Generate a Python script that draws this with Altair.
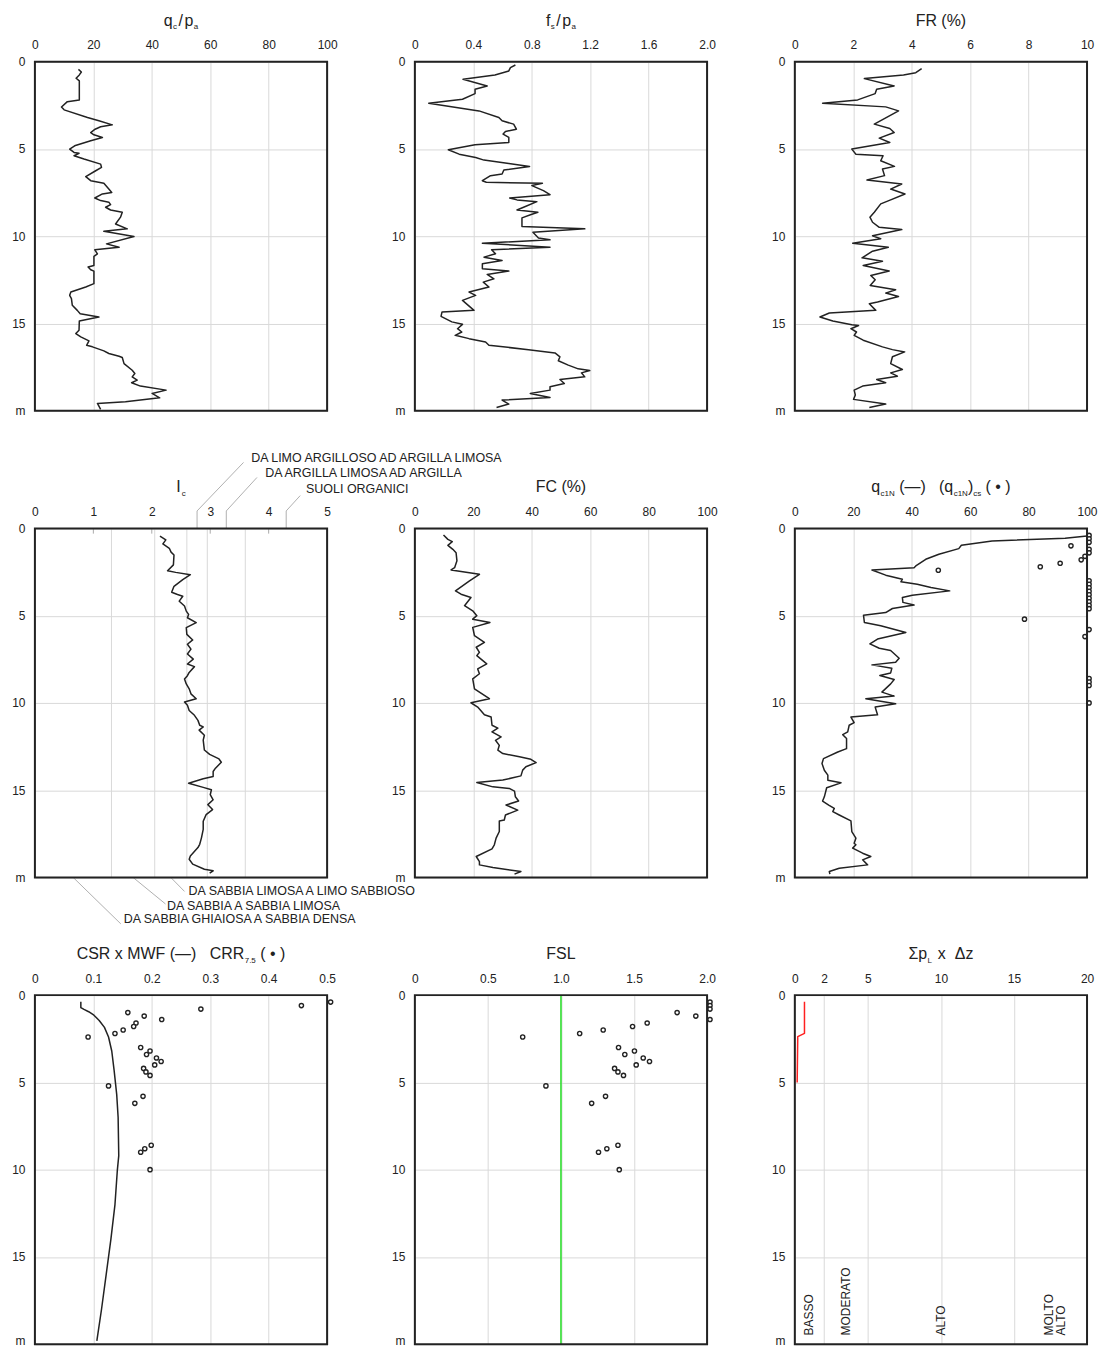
import altair as alt
import pandas as pd

FONT = "Liberation Sans"
INK = "#222222"
GRID = "#d9d9d9"
W, H = 293, 350

# ---------------- data ----------------
QC_D = [0.44, 0.59, 0.76, 0.95, 1.10, 2.19, 2.29, 2.60, 2.76, 3.20, 3.39, 3.62, 3.73, 3.87, 4.06, 4.19, 4.34, 4.53,
        4.82, 5.01, 5.20, 5.25, 5.39, 5.58, 5.87, 6.06, 6.25, 6.59, 6.82, 6.97, 7.30, 7.49, 7.58, 7.81, 7.96, 8.05,
        8.19, 8.34, 8.50, 8.63, 8.91, 9.30, 9.58, 9.72, 10.02, 10.44, 10.63, 10.78, 11.01, 11.16, 11.68, 11.77, 11.92,
        12.00, 12.72, 12.91, 13.20, 13.39, 13.58, 13.96, 14.25, 14.44, 14.63, 14.86, 15.39, 15.58, 15.77, 16.00, 16.25,
        16.34, 16.57, 16.72, 16.88, 16.95, 17.30, 17.68, 17.87, 18.06, 18.25, 18.40, 18.59, 18.82, 19.01, 19.26, 19.49,
        19.58, 19.92]
QC_V = [14.9, 15.9, 15.2, 14.1, 15.2, 15.2, 11.1, 9.1, 10.0, 18.0, 21.9, 26.5, 22.5, 20.6, 19.1, 20.2, 23.1, 19.1,
        13.6, 11.9, 13.4, 15.1, 13.4, 16.8, 22.5, 22.8, 20.8, 17.4, 19.1, 23.6, 25.3, 26.3, 23.1, 20.5, 22.5, 25.3,
        25.9, 24.2, 25.9, 29.9, 29.3, 27.6, 31.6, 23.6, 33.9, 24.5, 28.8, 20.5, 21.4, 20.2, 20.2, 18.2, 19.1,
        20.2, 20.2, 17.4, 12.3, 11.9, 12.5, 12.8, 14.5, 15.5, 21.9, 15.2, 15.1, 14.0, 15.7, 18.5, 17.7,
        19.7, 23.6, 25.3, 28.8, 29.9, 30.5, 33.3, 34.2, 33.3, 35.0, 33.1, 36.1, 44.9, 40.1, 42.7, 31.0,
        21.4, 22.5]

FS_D = [0.19, 0.34, 0.53, 0.76, 1.01, 1.39, 1.58, 1.83, 2.15, 2.38, 2.82, 3.20, 3.39, 3.58, 3.87, 4.00, 4.15, 4.34,
        4.63, 4.76, 5.05, 5.30, 5.49, 5.64, 5.83, 6.00, 6.21, 6.44, 6.53, 6.82, 6.91, 6.97, 7.10, 7.39, 7.62, 7.81,
        7.92, 8.02, 8.34, 8.50, 8.63, 8.76, 8.95, 9.45, 9.58, 9.77, 10.10, 10.21, 10.40, 10.63, 10.78, 11.01, 11.20,
        11.39, 11.58, 11.87, 12.00, 12.19, 12.44, 12.63, 12.91, 13.20, 13.39, 13.68, 14.25, 14.34, 14.59, 14.91,
        15.05, 15.30, 15.49, 15.68, 15.87, 16.06, 16.25, 16.50, 16.69, 16.91, 17.14, 17.39, 17.60, 17.70, 17.83,
        18.06, 18.21, 18.44, 18.63, 18.82, 19.01, 19.24, 19.39, 19.62, 19.81]
FS_V = [0.688, 0.654, 0.643, 0.548, 0.330, 0.495, 0.412, 0.412, 0.326, 0.095, 0.439, 0.575, 0.597, 0.676, 0.695,
        0.620, 0.604, 0.643, 0.643, 0.412, 0.229, 0.303, 0.416, 0.473, 0.643, 0.785, 0.609, 0.597, 0.518, 0.462,
        0.489, 0.873, 0.801, 0.880, 0.925, 0.649, 0.699, 0.835, 0.744, 0.699, 0.842, 0.796, 0.733, 0.733, 1.163,
        0.808, 0.846, 0.925, 0.462, 0.925, 0.525, 0.552, 0.473, 0.597, 0.462, 0.462, 0.643, 0.495, 0.541, 0.468,
        0.507, 0.371, 0.416, 0.326, 0.405, 0.186, 0.179, 0.253, 0.326, 0.292, 0.321, 0.276, 0.371, 0.484, 0.507,
        0.778, 0.959, 0.993, 0.982, 1.050, 1.118, 1.197, 1.140, 1.163, 0.993, 1.023, 0.925, 0.925, 0.790, 0.925,
        0.597, 0.643, 0.559]

FR_D = [0.40, 0.63, 0.76, 0.97, 1.39, 1.58, 1.83, 2.19, 2.38, 2.59, 2.82, 3.58, 3.83, 4.06, 4.38, 4.63, 5.01, 5.30,
        5.39, 5.68, 6.00, 6.15, 6.53, 6.78, 7.01, 7.30, 7.58, 7.92, 8.15, 8.63, 8.91, 9.20, 9.49, 9.62, 9.98, 10.15,
        10.40, 10.63, 10.86, 11.24, 11.43, 11.68, 12.00, 12.25, 12.50, 12.82, 13.07, 13.26, 13.45, 13.77, 13.87,
        14.25, 14.40, 14.63, 14.86, 15.08, 15.12, 15.30, 15.49, 15.68, 15.96, 16.34, 16.50, 16.63, 16.91, 17.30,
        17.64, 17.83, 18.02, 18.21, 18.40, 18.59, 18.82, 19.10, 19.35, 19.62, 19.81]
FR_V = [4.34, 4.14, 3.72, 2.38, 3.40, 2.80, 2.75, 2.15, 0.95, 3.11, 3.55, 2.72, 3.25, 3.40, 2.89, 3.25, 1.95, 2.09,
        3.02, 2.94, 3.41, 3.00, 3.07, 2.47, 3.66, 3.28, 3.77, 3.28, 2.94, 2.72, 2.57, 2.66, 2.89, 3.66, 2.66, 2.94,
        1.98, 3.20, 2.66, 2.30, 3.00, 2.34, 3.23, 2.60, 2.75, 2.58, 3.45, 3.11, 3.55, 2.83, 2.55,
        2.77, 1.18, 0.86, 1.30, 1.95, 2.18, 1.92, 2.11, 2.03, 2.34, 3.00, 3.34, 3.76, 3.34, 3.28,
        3.68, 3.28, 3.51, 2.80, 3.11, 2.32, 2.03, 2.07, 2.01, 3.11, 2.55]

IC_D = [0.44, 0.66, 0.89, 1.14, 1.36, 1.52, 2.09, 2.43, 2.52, 2.65, 2.94, 3.32, 3.66, 3.79, 3.89, 4.17, 4.45, 4.74,
        4.93, 5.12, 5.40, 5.69, 6.07, 6.39, 6.64, 6.92, 7.20, 7.49, 7.77, 7.92, 8.25, 8.44, 8.63, 8.91, 9.19, 9.48,
        9.76, 9.95, 10.14, 10.43, 10.71, 11.00, 11.28, 11.37, 11.56, 11.85, 12.13, 12.70, 12.95, 13.21, 13.40, 13.74,
        13.93, 14.22, 14.35, 14.60, 14.84, 14.98, 15.26, 15.55, 15.83, 16.11, 16.40, 16.78, 17.25, 17.73, 18.10,
        18.29, 18.77, 18.96, 19.24, 19.53, 19.62, 19.75]
IC_V = [2.14, 2.24, 2.19, 2.30, 2.33, 2.38, 2.37, 2.27, 2.41, 2.66, 2.53, 2.38, 2.34, 2.44, 2.53, 2.47, 2.56, 2.59,
        2.63, 2.61, 2.76, 2.59, 2.60, 2.70, 2.61, 2.67, 2.61, 2.71, 2.61, 2.73, 2.64, 2.61, 2.56, 2.59, 2.64, 2.67,
        2.76, 2.56, 2.61, 2.64, 2.73, 2.79, 2.82, 2.88, 2.81, 2.90, 2.88, 2.90, 2.99, 3.15, 3.19, 3.09,
        3.05, 3.05, 2.88, 2.63, 2.88, 3.02, 3.00, 3.05, 2.96, 3.04, 2.93, 2.88, 2.88, 2.85, 2.82,
        2.79, 2.66, 2.64, 2.70, 2.90, 3.05, 2.99]

FC_D = [0.38, 0.63, 0.76, 0.97, 1.20, 1.39, 1.86, 2.25, 2.38, 2.63, 3.01, 3.58, 3.77, 3.96, 4.43, 4.72, 5.00, 5.20,
        5.39, 5.67, 6.15, 6.53, 6.81, 7.10, 7.29, 7.76, 8.05, 8.33, 8.62, 9.19, 9.76, 9.99, 10.24, 10.68, 10.81,
        11.28, 11.44, 11.66, 11.95, 12.14, 12.43, 12.71, 12.90, 13.09, 13.23, 13.42, 13.66, 13.85, 14.18, 14.42,
        14.56, 14.81, 14.90, 15.05, 15.38, 15.62, 15.85, 16.14, 16.42, 16.71, 16.76, 17.37, 17.75, 18.13, 18.36,
        18.80, 19.09, 19.28, 19.43, 19.66, 19.81]
FC_V = [9.8, 11.3, 12.8, 11.3, 13.0, 14.1, 14.4, 13.6, 12.4, 22.1, 18.7, 13.9, 15.8, 19.2, 17.0, 19.8, 21.2, 19.8,
        25.7, 19.8, 20.4, 23.8, 21.0, 22.1, 21.2, 24.6, 21.5, 22.1, 19.8, 20.4, 25.5, 19.2, 21.5, 23.8, 26.1,
        26.4, 28.4, 26.4, 29.5, 27.6, 28.9, 28.4, 30.1, 35.8, 39.7, 41.5, 38.0, 36.9, 36.3, 30.1,
        21.2, 26.7, 32.3, 34.1, 34.4, 35.5, 31.2, 35.2, 31.0, 30.6, 28.9, 28.9, 27.8, 27.2, 26.4,
        21.0, 22.1, 22.1, 26.7, 36.3, 34.1]

Q1N_D = [0.44, 0.57, 0.72, 0.97, 1.16, 1.48, 1.77, 2.15, 2.25, 2.38, 2.68, 2.91, 3.06, 3.20, 3.39, 3.58, 3.83, 3.96,
         4.24, 4.39, 4.59, 4.82, 4.97, 5.39, 5.58, 5.96, 6.34, 6.62, 6.87, 7.00, 7.44, 7.67, 7.82, 8.01, 8.28, 8.43,
         8.66, 8.91, 9.38, 9.61, 9.76, 10.05, 10.24, 10.68, 10.81, 11.13, 11.28, 11.66, 11.82, 12.04, 12.62, 12.81,
         13.19, 13.47, 13.86, 14.14, 14.43, 14.58, 14.86, 15.38, 15.62, 15.85, 16.04, 16.23, 16.42, 16.76, 17.37,
         17.75, 18.04, 18.13, 18.32, 18.61, 18.80, 18.99, 19.28, 19.47, 19.66, 19.81]
Q1N_V = [100.0, 92.5, 67.5, 57.0, 56.1, 49.3, 44.8, 41.4, 40.8, 26.4, 31.1, 36.8, 36.3, 41.9, 46.6, 53.0, 40.2, 36.8,
         37.0, 40.8, 33.4, 31.1, 23.5, 23.8, 29.4, 38.0, 28.3, 25.7, 28.9, 32.8, 35.7, 34.5, 26.4, 33.2, 32.8, 29.1,
         34.0, 32.8, 29.8, 34.0, 24.3, 34.5, 27.5, 28.3, 19.2, 20.3, 18.6, 18.1, 16.4, 17.7, 17.7, 14.7,
         9.8, 9.3, 10.1, 11.3, 11.3, 15.8, 10.9, 10.1, 9.5, 11.6, 13.5, 13.0, 15.2, 19.2, 19.5,
         20.9, 20.3, 20.9, 19.8, 23.2, 26.0, 23.2, 24.9, 15.2, 11.8, 12.0]

# liquefaction check depths (shared by CRR, FSL and (qc1N)cs points)
LIQ_D = [0.4, 0.6, 0.8, 1.0, 1.2, 1.4, 1.6, 1.8, 2.0, 2.2, 2.4, 3.0, 3.2, 3.4, 3.6, 3.8, 4.0, 4.2, 4.4, 4.6,
         5.2, 5.8, 6.2, 8.6, 8.8, 9.0, 10.0]
QCS_V = [100.7, 100.7, 100.7, 94.5, 100.7, 100.7, 99.3, 98.0, 90.8, 84.0, 49.1, 100.7, 100.7, 100.7, 100.7, 100.7,
         100.7, 100.7, 100.7, 100.7, 78.6, 100.7, 99.3, 100.7, 100.7, 100.7, 100.7]
CRR_V = [0.506, 0.456, 0.284, 0.159, 0.187, 0.217, 0.173, 0.169, 0.151, 0.137, 0.091, 0.181, 0.197, 0.191, 0.208,
         0.216, 0.205, 0.186, 0.190, 0.197, 0.126, 0.185, 0.171, 0.199, 0.188, 0.181, 0.197]
FSL_V = [2.02, 2.02, 2.02, 1.795, 1.923, 2.02, 1.59, 1.49, 1.289, 1.128, 0.738, 1.394, 1.503, 1.437, 1.563, 1.606,
         1.515, 1.367, 1.39, 1.428, 0.897, 1.305, 1.21, 1.39, 1.314, 1.257, 1.399]

CSR_D = [0.38, 0.72, 0.82, 0.95, 1.15, 1.45, 1.85, 2.4, 3.2, 4.3, 5.7, 7.0, 8.2, 9.2, 10.06, 12.0, 14.0, 16.0, 18.0, 19.81]
CSR_V = [0.0786, 0.0786, 0.084, 0.092, 0.101, 0.110, 0.119, 0.126, 0.1315, 0.1355, 0.140, 0.1424, 0.143, 0.1435,
         0.141, 0.137, 0.130, 0.122, 0.114, 0.106]

LPI_D = [0.38, 2.19, 2.38, 5.01]
LPI_V = [0.66, 0.66, 0.20, 0.16]
FSL_LIMIT = 1.0

# Ic soil behaviour zones
IC_BOUNDS = [1.31, 2.05, 2.60, 2.95, 3.60]
IC_EDGES = [0.0] + IC_BOUNDS + [5.0]
ZONE_LABELS = ["DA SABBIA GHIAIOSA A SABBIA DENSA", "DA SABBIA A SABBIA LIMOSA", "DA SABBIA LIMOSA A LIMO SABBIOSO",
               "DA LIMO ARGILLOSO AD ARGILLA LIMOSA", "DA ARGILLA LIMOSA AD ARGILLA", "SUOLI ORGANICI"]
ZONE_START_D = [20, 20, 20, 0, 0, 0]
ZONE_ELBOW_D = [20, 20, 20, -1.0, -1.0, -1.0]
ZONE_END_X = [1.47, 2.235, 2.56, 3.57, 3.80, 4.54]
ZONE_END_D = [22.66, 21.52, 20.80, -3.78, -2.92, -1.88]
ZONE_LABEL_X = [1.52, 2.26, 2.63, 3.70, 3.94, 4.64]
ZONE_LABEL_D = [22.38, 21.61, 20.76, -4.06, -3.17, -2.26]
IC_MINOR = [1, 2, 3, 4]

# LPI risk classes
RISK_LABELS = ["BASSO", "MODERATO", "ALTO", "MOLTO\nALTO"]
RISK_X = [0.96, 3.48, 10.0, 17.4]
RISK_D = [19.5, 19.5, 19.5, 19.5]

# ---------------- helpers ----------------
CW = {' ': 278, '(': 333, ')': 333, '/': 278, '%': 889, '—': 1000, '•': 350, 'x': 500, 'q': 556, 'p': 556,
      'c': 500, 'f': 278, 's': 500, 'a': 556, '1': 556, 'N': 722, 'C': 722, 'S': 667, 'R': 722, 'M': 833,
      'W': 944, 'F': 611, '7': 556, '.': 278, '5': 556, 'L': 556, 'Σ': 600, 'Δ': 668, 'z': 500, 'I': 278}
SIZES = {"M": 16, "S": 8}


def tw(s, size):
    return sum(CW.get(ch, 556) for ch in s) * size / 1000.0


def title_layers(segs):
    total = sum(tw(t, SIZES[k]) + g for t, k, g in segs)
    x = W / 2 - total / 2
    out = []
    for t, k, g in segs:
        x += g
        y = -36 if k == "M" else -32.5
        out.append(
            alt.Chart(pd.DataFrame({"t": [t]}))
            .mark_text(align="left", baseline="alphabetic", x=x, y=y, fontSize=SIZES[k], font=FONT, color=INK)
            .encode(text="t:N")
        )
        x += tw(t, SIZES[k])
    return out


def encoders(dom, ticks, expr=None, grid=True, last_row=False):
    ax = dict(orient="top", values=ticks, title=None, ticks=False, tickSize=0, domain=False, grid=grid,
              gridColor=GRID, gridWidth=1, labelPadding=10, labelFontSize=12, labelFont=FONT, labelColor=INK,
              labelFlush=False, labelOverlap=False)
    if expr:
        ax["labelExpr"] = expr
    xs = alt.Scale(domain=dom, nice=False, zero=False)
    ys = alt.Scale(domain=[0, 20], reverse=True, nice=False, zero=False)
    yax_kw = dict(values=[0, 5, 10, 15, 20], labelExpr="datum.value == 20 ? 'm' : datum.label", title=None,
                  ticks=False, tickSize=0, domain=False, grid=True, gridColor=GRID, gridWidth=1, labelPadding=10,
                  labelFontSize=12, labelFont=FONT, labelColor=INK, labelFlush=False, labelOverlap=False)
    if last_row:
        yax_kw["labelBaseline"] = {"condition": {"test": "datum.value == 20", "value": "alphabetic"},
                                   "value": "middle"}
    yax = alt.Axis(**yax_kw)

    def X(f):
        return alt.X(f"{f}:Q", scale=xs, axis=alt.Axis(**ax))

    def Y(f):
        return alt.Y(f"{f}:Q", scale=ys, axis=yax)

    return X, Y


def line_layer(X, Y, d, v, color=INK, width=1.5):
    df = pd.DataFrame({"d": d, "v": v, "i": list(range(len(d)))})
    return alt.Chart(df).mark_line(color=color, strokeWidth=width, strokeJoin="round").encode(
        x=X("v"), y=Y("d"), order=alt.Order("i:Q"))


def point_layer(X, Y, d, v):
    df = pd.DataFrame({"d": d, "v": v})
    return alt.Chart(df).mark_point(shape="circle", filled=True, fill="white", stroke=INK, strokeWidth=1.4,
                                    size=18, opacity=1).encode(x=X("v"), y=Y("d"))


def frame_layer(X, Y, dom):
    df = pd.DataFrame({"x0": [dom[0]], "x1": [dom[1]], "y0": [0], "y1": [20]})
    return alt.Chart(df).mark_rect(fill="transparent", stroke=INK, strokeWidth=2).encode(
        x=X("x0"), x2=alt.X2("x1"), y=Y("y0"), y2=alt.Y2("y1"))


def panel(dom, ticks, layers_fn, title, expr=None, grid=True, last_row=False):
    X, Y = encoders(dom, ticks, expr, grid, last_row)
    layers = layers_fn(X, Y) + [frame_layer(X, Y, dom)] + title_layers(title)
    return alt.layer(*layers).properties(width=W, height=H)


DEC = "datum.value == 0 ? '0' : format(datum.value, '.1f')"

p1 = panel([0, 100], [0, 20, 40, 60, 80, 100], lambda X, Y: [line_layer(X, Y, QC_D, QC_V)],
           [("q", "M", 0), ("c", "S", 0.5), ("/", "M", 1.5), ("p", "M", 1.5), ("a", "S", 0.5)])
p2 = panel([0, 2], [0, 0.4, 0.8, 1.2, 1.6, 2.0], lambda X, Y: [line_layer(X, Y, FS_D, FS_V)],
           [("f", "M", 0), ("s", "S", 0.5), ("/", "M", 1.5), ("p", "M", 1.5), ("a", "S", 0.5)], expr=DEC)
p3 = panel([0, 10], [0, 2, 4, 6, 8, 10], lambda X, Y: [line_layer(X, Y, FR_D, FR_V)],
           [("FR (%)", "M", 0)])


def ic_layers(X, Y):
    bdf = pd.DataFrame({"b": IC_BOUNDS, "y0": [0] * len(IC_BOUNDS), "y1": [20] * len(IC_BOUNDS)})
    bounds = alt.Chart(bdf).mark_rule(color=GRID, strokeWidth=1).encode(x=X("b"), y=Y("y0"), y2=alt.Y2("y1"))
    mdf = pd.DataFrame({"m": IC_MINOR, "y0": [0] * 4, "y1": [0.3] * 4})
    minor = alt.Chart(mdf).mark_rule(color="#aaaaaa", strokeWidth=1).encode(x=X("m"), y=Y("y0"), y2=alt.Y2("y1"))
    mids = [(IC_EDGES[i] + IC_EDGES[i + 1]) / 2 for i in range(len(IC_EDGES) - 1)]
    rows = []
    for k in range(6):
        rows.append({"k": k, "s": 0, "x": mids[k], "d": ZONE_START_D[k]})
        rows.append({"k": k, "s": 1, "x": mids[k], "d": ZONE_ELBOW_D[k]})
        rows.append({"k": k, "s": 2, "x": ZONE_END_X[k], "d": ZONE_END_D[k]})
    leaders = alt.Chart(pd.DataFrame(rows)).mark_line(color="#b0b0b0", strokeWidth=1).encode(
        x=X("x"), y=Y("d"), detail="k:N", order=alt.Order("s:Q"))
    ldf = pd.DataFrame({"t": ZONE_LABELS, "x": ZONE_LABEL_X, "d": ZONE_LABEL_D})
    labels = alt.Chart(ldf).mark_text(align="left", baseline="middle", fontSize=12.5, font=FONT, color=INK).encode(
        x=X("x"), y=Y("d"), text="t:N")
    return [bounds, minor, line_layer(X, Y, IC_D, IC_V), leaders, labels]


p4 = panel([0, 5], [0, 1, 2, 3, 4, 5], ic_layers, [("I", "M", 0), ("c", "S", 1)], grid=False)
p5 = panel([0, 100], [0, 20, 40, 60, 80, 100], lambda X, Y: [line_layer(X, Y, FC_D, FC_V)],
           [("FC (%)", "M", 0)])
p6 = panel([0, 100], [0, 20, 40, 60, 80, 100],
           lambda X, Y: [line_layer(X, Y, Q1N_D, Q1N_V), point_layer(X, Y, LIQ_D, QCS_V)],
           [("q", "M", 0), ("c1N", "S", 0.5), ("(—)", "M", 4.4), ("(q", "M", 13.3), ("c1N", "S", 0.5),
            (")", "M", 0), ("cs", "S", 0), ("( • )", "M", 4.4)])
p7 = panel([0, 0.5], [0, 0.1, 0.2, 0.3, 0.4, 0.5],
           lambda X, Y: [line_layer(X, Y, CSR_D, CSR_V), point_layer(X, Y, LIQ_D, CRR_V)],
           [("CSR x MWF (—)", "M", 0), ("CRR", "M", 13.3), ("7.5", "S", 0.5), ("( • )", "M", 4.4)], expr=DEC,
           last_row=True)


def fsl_layers(X, Y):
    gdf = pd.DataFrame({"x": [FSL_LIMIT], "y0": [0], "y1": [20]})
    green = alt.Chart(gdf).mark_rule(color="#22dd22", strokeWidth=1.5).encode(x=X("x"), y=Y("y0"), y2=alt.Y2("y1"))
    return [green, point_layer(X, Y, LIQ_D, FSL_V)]


p8 = panel([0, 2], [0, 0.5, 1.0, 1.5, 2.0], fsl_layers, [("FSL", "M", 0)], expr=DEC, last_row=True)


def lpi_layers(X, Y):
    rdf = pd.DataFrame({"t": RISK_LABELS, "x": RISK_X, "d": RISK_D})
    risk = alt.Chart(rdf).mark_text(angle=270, align="left", baseline="middle", fontSize=12, font=FONT,
                                    color=INK, lineBreak="\n", lineHeight=12).encode(x=X("x"), y=Y("d"), text="t:N")
    return [line_layer(X, Y, LPI_D, LPI_V, color="#ff2020", width=1.5), risk]


p9 = panel([0, 20], [0, 2, 5, 10, 15, 20], lpi_layers, [("Σp", "M", 0), ("L", "S", 0.5), ("x", "M", 6),
                                                          ("Δz", "M", 9)], last_row=True)

chart = alt.concat(p1, p2, p3, p4, p5, p6, p7, p8, p9, columns=3,
                   spacing=alt.RowColnumber(row=118, column=88), bounds="flush").properties(
    padding={"left": 11, "top": 10, "right": 0, "bottom": 0}
).configure_view(stroke="transparent").configure(background="white")

chart.save("out.html", embed_options={"renderer": "svg", "actions": False})
